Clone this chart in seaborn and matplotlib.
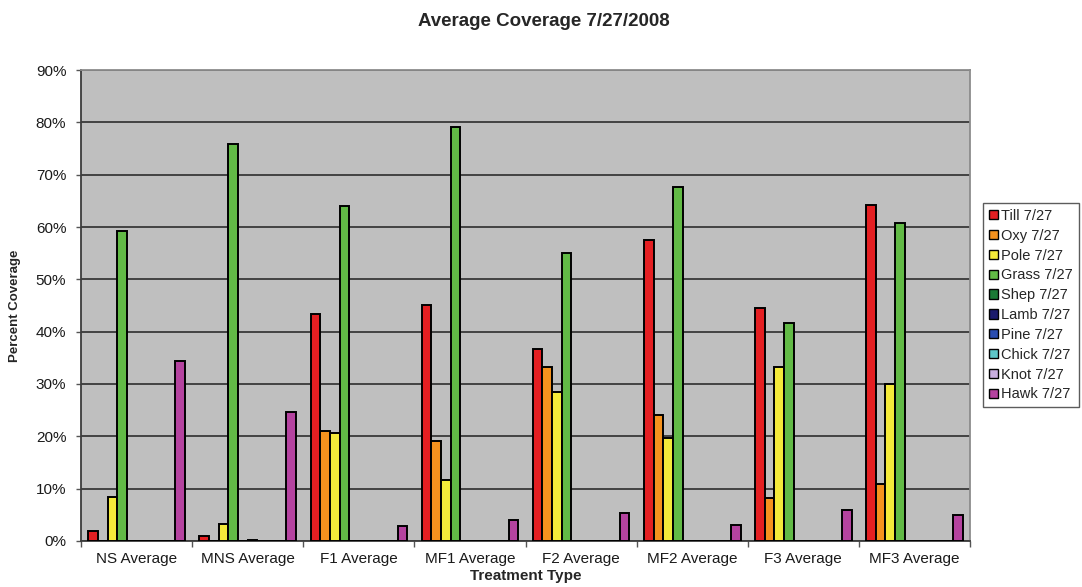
import numpy as np
import pandas as pd
import seaborn as sns
import matplotlib
matplotlib.use("Agg")
import matplotlib.pyplot as plt
from matplotlib.ticker import PercentFormatter, FixedLocator

# Treatment groups along the x axis
treatments = ["NS Average", "MNS Average", "F1 Average", "MF1 Average",
              "F2 Average", "MF2 Average", "F3 Average", "MF3 Average"]

# Series names (species, sampled 7/27)
series = ["Till 7/27", "Oxy 7/27", "Pole 7/27", "Grass 7/27", "Shep 7/27",
          "Lamb 7/27", "Pine 7/27", "Chick 7/27", "Knot 7/27", "Hawk 7/27"]

# Percent coverage per series, one value per treatment group
till  = [2.0, 1.0, 43.3, 45.1, 36.7, 57.5, 44.6, 64.3]
oxy   = [0.0, 0.0, 21.0, 19.2, 33.3, 24.1, 8.3, 10.8]
pole  = [8.4, 3.3, 20.6, 11.7, 28.4, 19.7, 33.3, 30.0]
grass = [59.2, 75.8, 64.1, 79.2, 55.0, 67.6, 41.7, 60.8]
shep  = [0.0, 0.0, 0.0, 0.0, 0.0, 0.0, 0.0, 0.0]
lamb  = [0.0, 0.15, 0.0, 0.0, 0.0, 0.0, 0.0, 0.0]
pine  = [0.0, 0.0, 0.0, 0.0, 0.0, 0.0, 0.0, 0.0]
chick = [0.0, 0.0, 0.0, 0.0, 0.0, 0.0, 0.0, 0.0]
knot  = [0.0, 0.0, 0.0, 0.0, 0.0, 0.0, 0.0, 0.0]
hawk  = [34.3, 24.7, 2.8, 4.0, 5.3, 3.0, 6.0, 5.0]

values = [till, oxy, pole, grass, shep, lamb, pine, chick, knot, hawk]

colors = ["#E41F22", "#F5921E", "#F4EA3A", "#62BA46", "#1B7A36",
          "#1A1A6C", "#2A4DB0", "#5EC7C9", "#C9AEDF", "#B4439F"]

df = pd.DataFrame({
    "Treatment": np.repeat([treatments], len(series), axis=0).ravel(),
    "Series": np.repeat(series, len(treatments)),
    "Coverage": np.concatenate(values),
})

sns.set_style("white")
plt.rcParams["font.family"] = ["Liberation Sans", "DejaVu Sans"]

fig = plt.figure(figsize=(10.82, 5.87), dpi=100)
ax = fig.add_axes([0.0749, 0.0784, 0.8216, 0.8023])
ax.set_facecolor("#BFBFBF")

sns.barplot(data=df, x="Treatment", y="Coverage", hue="Series",
            order=treatments, hue_order=series, palette=colors,
            saturation=1, width=0.87, edgecolor="black", linewidth=1.4,
            errorbar=None, ax=ax, zorder=3)

ax.set_ylim(0, 90)
ax.set_xlim(-0.5, len(treatments) - 0.5)
ax.yaxis.set_major_locator(FixedLocator(np.arange(0, 91, 10)))
ax.yaxis.set_major_formatter(PercentFormatter(100, decimals=0))
ax.grid(axis="y", color="#383838", linewidth=1.3, zorder=1)
ax.set_axisbelow(True)

# Category separators as downward ticks on the x axis
ax.set_xticks(np.arange(len(treatments)))
ax.set_xticklabels(treatments, fontsize=11, color="#1A1A1A")
ax.set_xticks(np.arange(-0.5, len(treatments)), minor=True)
ax.tick_params(axis="x", which="major", length=0, pad=8)
ax.tick_params(axis="x", which="minor", length=4, width=1, color="#555555",
               direction="out", bottom=True)
ax.tick_params(axis="y", which="major", length=3.6, width=1, color="#555555",
               direction="out", left=True, labelsize=11, labelcolor="#1A1A1A",
               pad=7)

for side in ["left", "bottom"]:
    ax.spines[side].set_color("#3C3C3C")
    ax.spines[side].set_linewidth(1.3)
for side in ["top", "right"]:
    ax.spines[side].set_color("#8C8C8C")
    ax.spines[side].set_linewidth(1.3)

ax.set_xlabel("Treatment Type", fontsize=11, fontweight="bold", labelpad=2)
ax.set_ylabel("Percent Coverage", fontsize=9.5, fontweight="bold", labelpad=11)

fig.text(0.503, 0.963, "Average Coverage 7/27/2008", ha="center", va="center",
         fontsize=13.5, fontweight="bold")

leg = ax.legend(loc="upper left", bbox_to_anchor=(0.9085, 0.654),
                bbox_transform=fig.transFigure, frameon=True, fancybox=False,
                fontsize=10.5, handlelength=0.6, handleheight=0.6,
                handletextpad=0.25, labelspacing=0.4, borderpad=0.4,
                borderaxespad=0)
leg.get_frame().set_edgecolor("#333333")
leg.get_frame().set_linewidth(1.0)
for h in leg.legend_handles:
    h.set_edgecolor("black")
    h.set_linewidth(1.0)

fig.savefig("out.png", dpi=100, facecolor="white")
